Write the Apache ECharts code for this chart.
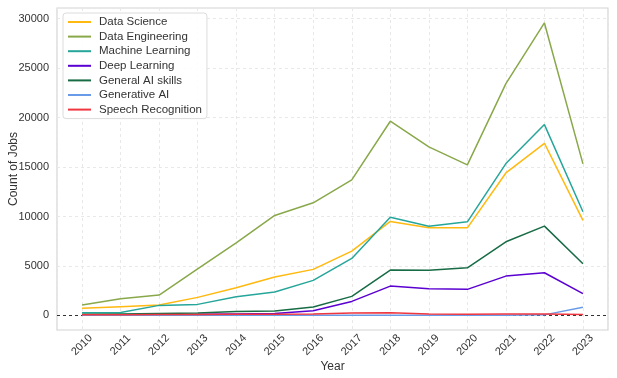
<!DOCTYPE html>
<html>
<head>
<meta charset="utf-8">
<script src="https://cdn.jsdelivr.net/npm/echarts@6/dist/echarts.min.js"></script>
<style>html,body{margin:0;padding:0;background:#fff;}#c{width:617px;height:378px;}</style>
</head>
<body>
<div id="c"></div>
<script>
const years = [2010, 2011, 2012, 2013, 2014, 2015, 2016, 2017, 2018, 2019, 2020, 2021, 2022, 2023];
const dataScience = [710, 880, 1040, 1820, 2800, 3870, 4650, 6500, 9500, 8850, 8850, 14400, 17400, 9600];
const dataEngineering = [1040, 1680, 2050, 4710, 7340, 10100, 11380, 13700, 19630, 17040, 15220, 23430, 29570, 15320];
const machineLearning = [270, 290, 1010, 1110, 1890, 2360, 3540, 5760, 9930, 9020, 9460, 15350, 19290, 10470];
const deepLearning = [30, 50, 80, 100, 150, 200, 470, 1410, 2960, 2690, 2630, 3970, 4310, 2190];
const generalAI = [100, 150, 200, 250, 400, 450, 840, 1920, 4580, 4550, 4810, 7440, 9020, 5220];
const generativeAI = [0, 0, 0, 0, 0, 0, 0, 0, 10, 10, 10, 20, 50, 810];
const speechRecognition = [60, 70, 80, 90, 100, 110, 130, 250, 260, 130, 120, 130, 140, 90];

const seriesNames = ['Data Science', 'Data Engineering', 'Machine Learning', 'Deep Learning', 'General AI skills', 'Generative AI', 'Speech Recognition'];
const seriesData = [dataScience, dataEngineering, machineLearning, deepLearning, generalAI, generativeAI, speechRecognition];
const colors = ['#FFB90F', '#89A84A', '#26A69A', '#5A00D0', '#176B45', '#6A9BE8', '#F0363F'];

const font = "'Liberation Sans', Arial, sans-serif";
const chart = echarts.init(document.getElementById('c'), null, {renderer: 'canvas'});

const series = seriesNames.map((name, i) => ({
  name: name,
  type: 'line',
  data: years.map((y, j) => [y, seriesData[i][j]]),
  showSymbol: false,
  symbol: 'none',
  lineStyle: {width: 1.5, color: colors[i]},
  itemStyle: {color: colors[i]},
  z: 2 + i,
  animation: false
}));
series.push({
  name: 'zero',
  type: 'line',
  data: [],
  markLine: {
    silent: true,
    symbol: 'none',
    label: {show: false},
    lineStyle: {type: [3, 3], color: '#333', width: 1},
    data: [{yAxis: 0}]
  },
  z: 1,
  animation: false
});

chart.setOption({
  animation: false,
  backgroundColor: '#fff',
  color: colors,
  grid: {left: 57, right: 9, top: 8, bottom: 48, show: true, borderColor: '#d4d4d4', borderWidth: 1.2, containLabel: false, outerBoundsMode: 'none'},
  legend: {
    data: seriesNames,
    orient: 'vertical',
    left: 63, top: 13,
    icon: 'rect',
    itemWidth: 23, itemHeight: 2,
    itemGap: 0.6,
    padding: [2, 5, 2, 5],
    borderColor: '#dcdcdc', borderWidth: 1, borderRadius: 3,
    backgroundColor: 'rgba(255,255,255,0.9)',
    textStyle: {fontFamily: font, fontSize: 11.5, color: '#333', lineHeight: 14, padding: [0, 0, 0, 3]}
  },
  xAxis: {
    type: 'value',
    min: 2009.35, max: 2023.65,
    minInterval: 1, maxInterval: 1,
    splitNumber: 14,
    name: 'Year', nameLocation: 'middle', nameGap: 31, nameMoveOverlap: false,
    nameTextStyle: {fontFamily: font, fontSize: 12, color: '#333'},
    axisLine: {show: false}, axisTick: {show: false},
    axisLabel: {
      showMinLabel: false, showMaxLabel: false,
      rotate: 45, align: 'center', verticalAlign: 'middle', margin: 15,
      fontFamily: font, fontSize: 11, color: '#333',
      formatter: v => String(Math.round(v))
    },
    splitLine: {show: true, lineStyle: {type: [3, 3], color: '#e8e8e8', width: 1}}
  },
  yAxis: {
    type: 'value',
    min: -1480, max: 31080,
    minInterval: 5000, maxInterval: 5000,
    splitNumber: 6,
    name: 'Count of Jobs', nameLocation: 'middle', nameGap: 37, nameMoveOverlap: false,
    nameTextStyle: {fontFamily: font, fontSize: 12, color: '#333'},
    axisLine: {show: false}, axisTick: {show: false},
    axisLabel: {showMinLabel: false, showMaxLabel: false, fontFamily: font, fontSize: 11, color: '#333', margin: 8,
      formatter: v => String(Math.round(v))},
    splitLine: {show: true, lineStyle: {type: [3, 3], color: '#e8e8e8', width: 1}}
  },
  series: series
});
</script>
</body>
</html>
